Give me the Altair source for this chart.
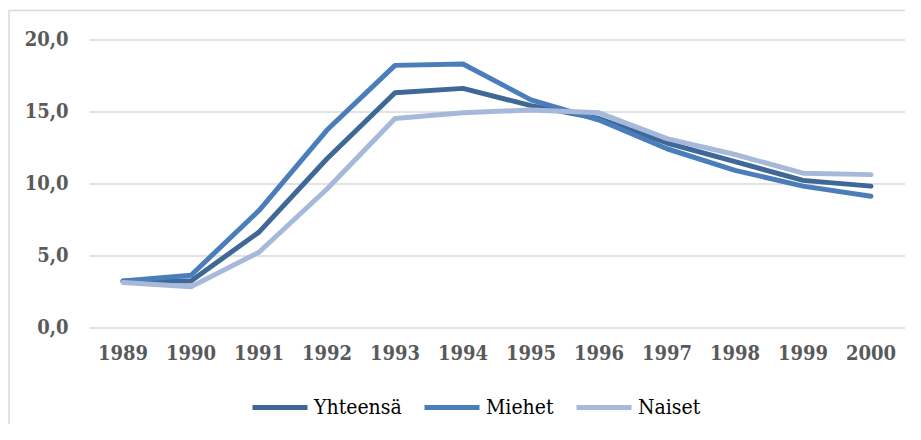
import altair as alt
import pandas as pd

years = ["1989", "1990", "1991", "1992", "1993", "1994", "1995", "1996", "1997", "1998", "1999", "2000"]
yhteensa = [3.2, 3.2, 6.6, 11.7, 16.3, 16.6, 15.4, 14.5, 12.8, 11.5, 10.2, 9.8]
miehet = [3.2, 3.6, 8.1, 13.7, 18.2, 18.3, 15.8, 14.4, 12.4, 10.9, 9.8, 9.1]
naiset = [3.1, 2.8, 5.2, 9.6, 14.5, 14.9, 15.1, 14.9, 13.1, 12.0, 10.7, 10.6]
series = ["Yhteensä", "Miehet", "Naiset"]
colors = ["#3f6797", "#4a7ebb", "#a7b9da"]

rows = []
for name, vals in zip(series, [yhteensa, miehet, naiset]):
    for i, (yr, v) in enumerate(zip(years, vals)):
        rows.append({"Vuosi": yr, "Arvo": v, "Sarja": name, "ord": series.index(name)})
df = pd.DataFrame(rows)

FONT = "DejaVu Serif Condensed"

frame = alt.Chart(pd.DataFrame({"a": [0]})).mark_rect(
    fill="transparent", stroke="#d9d9d9", strokeWidth=1.5
).encode(
    x=alt.value(-80), x2=alt.value(840), y=alt.value(-29), y2=alt.value(500)
)

lines = alt.Chart(df).mark_line(
    strokeWidth=5, strokeCap="round", strokeJoin="round"
).encode(
    x=alt.X("Vuosi:N", sort=years,
            scale=alt.Scale(type="band", paddingInner=0, paddingOuter=0),
            axis=alt.Axis(title=None, labelAngle=0, ticks=False, domain=False, grid=False,
                          labelFont=FONT, labelFontSize=20, labelFontWeight="bold",
                          labelColor="#595959", labelPadding=16)),
    y=alt.Y("Arvo:Q", scale=alt.Scale(domain=[0, 20], nice=False),
            axis=alt.Axis(title=None, values=[0, 5, 10, 15, 20], format=".1f",
                          labelExpr="replace(format(datum.value, '.1f'), '.', ',')",
                          ticks=False, domain=False, grid=True,
                          gridColor="#d9d9d9", gridWidth=1.5,
                          labelFont=FONT, labelFontSize=20, labelFontWeight="bold",
                          labelColor="#595959", labelPadding=21)),
    color=alt.Color("Sarja:N", sort=series,
                    scale=alt.Scale(domain=series, range=colors),
                    legend=alt.Legend(title=None, orient="none", direction="horizontal",
                                      legendX=161, legendY=338,
                                      symbolType="stroke", symbolSize=3025,
                                      symbolStrokeWidth=5, labelFont=FONT,
                                      labelFontSize=21, labelColor="#000000",
                                      labelOffset=4, columnPadding=12,
                                      symbolOffset=0)),
    order=alt.Order("ord:Q"),
)

chart = alt.layer(frame, lines).properties(
    width=816, height=287.5,
    padding={"left": 81, "top": 31.5, "right": 0, "bottom": 97},
    autosize=alt.AutoSizeParams(type="none"),
).configure_view(stroke=None)

chart.save("out.html", embed_options={"renderer": "svg", "actions": False})
